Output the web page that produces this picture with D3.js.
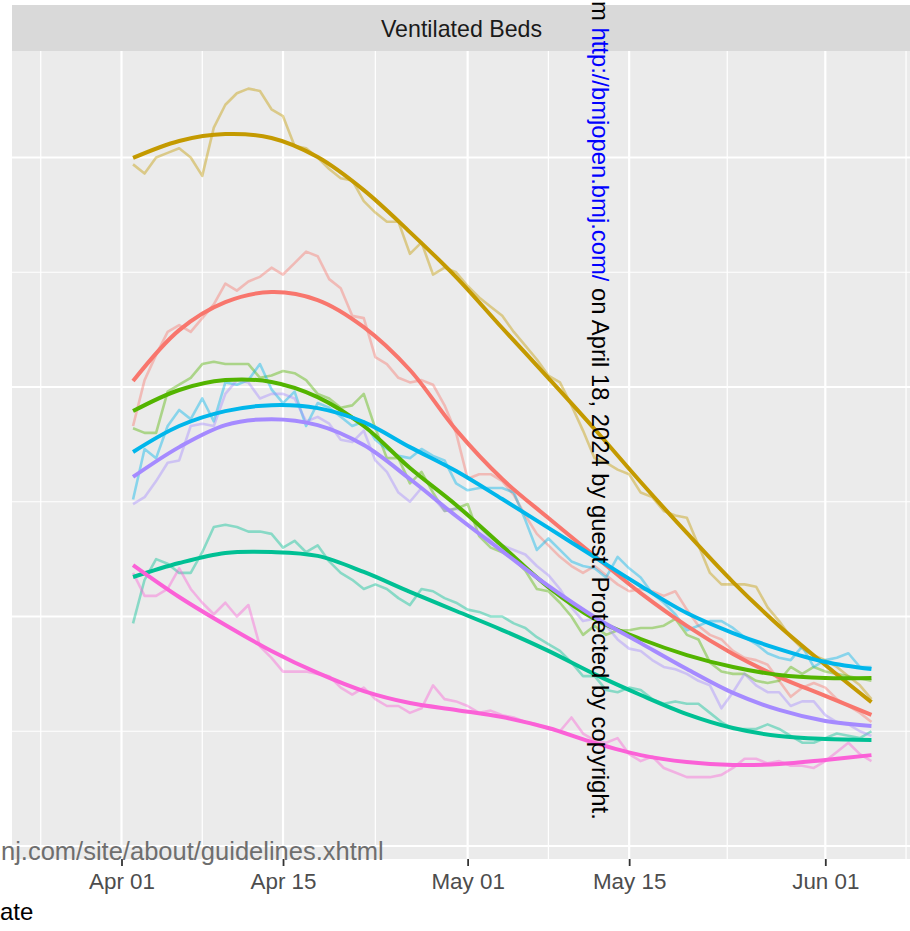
<!DOCTYPE html>
<html><head><meta charset="utf-8">
<script src="https://cdn.jsdelivr.net/npm/d3@7"></script>
<style>body{margin:0;background:#fff}svg{display:block}</style>
</head><body>
<svg id="chart" width="910" height="931"></svg>
<script>
// ---------------- data ----------------
const seriesNames = ["East of England","London","Midlands","North East and Yorkshire","North West","South East","South West"];
const seriesColors = ["#F8766D","#C49A00","#53B400","#00C094","#00B6EB","#A58AFF","#FB61D7"];
const firstDay = "2020-04-02";           // daily observations Apr 02 .. Jun 05
const nDays = 65;

const rawEast = [183,203,214,224,227,224,230,236,245,242,246,248,252,249,254,259,257,247,243,231,230,213,210,204,202,203,201,192,180,160,162,162,159,153,144,136,131,126,122,119,122,118,114,111,112,111,109,111,103,96,92,90,85,82,81,79,72,65,69,71,69,64,61,58,54];
const rawLondon = [297,293,300,302,304,300,292,313,323,328,330,329,321,318,305,304,300,295,291,290,281,276,272,272,258,263,249,252,250,244,239,235,231,224,218,212,205,202,192,181,169,167,164,162,154,152,146,144,143,131,119,114,114,114,113,104,98,91,86,83,81,78,74,70,64];
const rawMidlands = [182,180,180,198,201,204,210,211,210,210,210,204,205,207,206,203,197,195,191,192,197,182,169,169,158,163,154,146,147,149,135,130,128,125,120,112,111,106,100,92,96,92,94,94,95,95,96,99,92,90,80,76,75,75,72,71,72,78,75,78,76,75,74,73,72];
const rawNEY = [97,116,125,123,119,119,128,139,140,139,137,137,136,130,133,128,131,124,119,116,112,114,112,108,105,112,111,108,106,103,102,100,100,97,95,91,88,85,80,74,74,68,67,69,68,64,62,63,62,62,58,54,51,51,51,53,51,48,45,45,47,49,48,47,50];
const rawNW = [151,173,169,183,190,186,195,185,202,201,203,210,199,193,198,183,193,191,187,183,185,177,173,170,169,173,170,168,158,155,156,156,156,154,142,129,134,129,124,122,121,117,126,121,117,110,106,101,94,96,98,98,95,91,88,84,82,81,87,78,81,82,84,78,78];
const rawSE = [149,152,159,167,168,183,184,183,197,203,202,195,197,197,195,185,187,184,177,176,181,168,163,154,150,156,152,146,147,145,139,134,131,129,127,122,118,112,104,98,99,96,90,86,85,81,78,77,75,72,70,60,67,75,70,67,67,61,63,63,57,54,53,50,48];
const rawSW = [119,109,109,112,121,112,106,101,106,100,105,87,82,76,76,76,75,74,69,66,69,64,61,61,58,60,70,64,63,61,58,59,57,56,54,53,51,50,56,49,46,45,47,40,37,39,34,32,30,30,30,31,34,38,38,36,37,35,35,34,37,41,45,40,37];

// smoothed trend values, read every 4 days
const smoothDates = ["2020-04-02","2020-04-06","2020-04-10","2020-04-14","2020-04-18","2020-04-22","2020-04-26","2020-04-30","2020-05-04","2020-05-08","2020-05-12","2020-05-16","2020-05-20","2020-05-24","2020-05-28","2020-06-01","2020-06-05"];
const smoothEast = [202.6,224.8,237.0,241.4,237.9,226.1,207.4,181.3,159.9,142.9,126.4,110.2,95.9,83.7,73.6,65.4,57.1];
const smoothLondon = [299.8,307.2,310.2,308.5,300.2,285.8,267.5,247.9,225.7,203.9,181.7,158.6,136.4,115.0,95.9,78.9,62.7];
const smoothMidlands = [189.5,198.7,203.0,202.2,195.6,183.0,164.7,148.6,130.7,112.8,98.9,90.2,83.2,78.0,74.5,73.2,73.2];
const smoothNEY = [117.2,123.3,127.7,128.1,126.4,119.4,110.7,102.4,94.1,85.0,74.9,65.8,57.5,51.4,47.9,46.6,46.2];
const smoothNW = [171.7,183.0,189.5,192.1,190.8,184.7,173.8,163.4,151.2,138.6,125.9,113.3,101.5,92.8,85.8,80.2,77.1];
const smoothSE = [160.8,173.8,183.4,186.0,183.4,174.7,159.9,143.8,128.5,113.3,99.8,88.4,77.1,66.7,59.3,54.5,52.3];
const smoothSW = [122.4,108.5,96.3,85.0,75.4,67.5,62.3,59.3,56.2,51.4,44.9,39.6,36.6,35.3,35.7,37.5,39.6];

const majorDates = ["2020-04-01","2020-04-15","2020-05-01","2020-05-15","2020-06-01"];
const minorDates = ["2020-03-25","2020-04-08","2020-04-23","2020-05-08","2020-05-23T12:00","2020-06-08"];
const yMajor = [0,100,200,300];
const yMinor = [50,150,250];
const stripTitle = "Ventilated Beds";

// ---------------- drawing ----------------
const parse = s => new Date(s + (s.length === 10 ? "T00:00:00Z" : ":00Z"));
const rawSeries = [rawEast,rawLondon,rawMidlands,rawNEY,rawNW,rawSE,rawSW];
const smoothSeries = [smoothEast,smoothLondon,smoothMidlands,smoothNEY,smoothNW,smoothSE,smoothSW];
const dayDates = d3.utcDay.range(parse(firstDay), d3.utcDay.offset(parse(firstDay), nDays));
const sDates = smoothDates.map(parse);

const panel = {left: 12, right: 911, top: 51, bottom: 859};
const svg = d3.select("#chart");

const x = d3.scaleUtc().domain([parse("2020-04-01"), parse("2020-06-01")]).range([121.5, 825.3]);
const y = d3.scaleLinear().domain([0, 300]).range([846, 157.5]);

// panel background
svg.append("rect").attr("x", panel.left).attr("y", panel.top)
  .attr("width", panel.right - panel.left).attr("height", panel.bottom - panel.top).attr("fill", "#EBEBEB");
// strip
svg.append("rect").attr("x", panel.left).attr("y", 5)
  .attr("width", panel.right - panel.left).attr("height", panel.top - 5).attr("fill", "#D9D9D9");
svg.append("text").attr("x", (panel.left + panel.right) / 2).attr("y", 37)
  .attr("text-anchor", "middle").attr("font-family", "Liberation Sans, Arial, sans-serif")
  .attr("font-size", 23.2).attr("fill", "#1A1A1A").text(stripTitle);

const grid = svg.append("g");
grid.selectAll(".ymin").data(yMinor).join("line")
  .attr("x1", panel.left).attr("x2", panel.right).attr("y1", d => y(d)).attr("y2", d => y(d))
  .attr("stroke", "#fff").attr("stroke-width", 1.2);
grid.selectAll(".xmin").data(minorDates.map(parse)).join("line")
  .attr("y1", panel.top).attr("y2", panel.bottom).attr("x1", d => x(d)).attr("x2", d => x(d))
  .attr("stroke", "#fff").attr("stroke-width", 1.2);
grid.selectAll(".ymaj").data(yMajor).join("line")
  .attr("x1", panel.left).attr("x2", panel.right).attr("y1", d => y(d)).attr("y2", d => y(d))
  .attr("stroke", "#fff").attr("stroke-width", 2.2);
grid.selectAll(".xmaj").data(majorDates.map(parse)).join("line")
  .attr("y1", panel.top).attr("y2", panel.bottom).attr("x1", d => x(d)).attr("x2", d => x(d))
  .attr("stroke", "#fff").attr("stroke-width", 2.2);

// x axis
const xAxis = d3.axisBottom(x).tickValues(majorDates.map(parse))
  .tickFormat(d3.utcFormat("%b %d")).tickSize(7).tickPadding(5);
const ax = svg.append("g").attr("transform", `translate(0,${panel.bottom})`).call(xAxis);
ax.select(".domain").remove();
ax.selectAll(".tick line").attr("stroke", "#333333").attr("stroke-width", 1.8);
ax.selectAll(".tick text").attr("fill", "#4D4D4D").attr("font-size", 22.4)
  .attr("font-family", "Liberation Sans, Arial, sans-serif").attr("dy", null).attr("y", 30);

// raw lines
const rawLine = d3.line().x((d, i) => x(dayDates[i])).y(d => y(d));
svg.append("g").selectAll("path").data(rawSeries).join("path")
  .attr("d", rawLine).attr("fill", "none")
  .attr("stroke", (d, i) => seriesColors[i]).attr("stroke-opacity", 0.42)
  .attr("stroke-width", 2.6).attr("stroke-linejoin", "round");

// smooth lines
const smoothLine = d3.line().x((d, i) => x(sDates[i])).y(d => y(d)).curve(d3.curveCatmullRom.alpha(0.5));
svg.append("g").selectAll("path").data(smoothSeries).join("path")
  .attr("d", smoothLine).attr("fill", "none")
  .attr("stroke", (d, i) => seriesColors[i]).attr("stroke-width", 4).attr("stroke-linecap", "butt");

// overlaid watermark texts
const wm = svg.append("text").attr("transform", "translate(592,1) rotate(90)")
  .attr("font-family", "Liberation Sans, Arial, sans-serif").attr("font-size", 23.8).attr("fill", "#000");
wm.append("tspan").text("m ");
wm.append("tspan").attr("fill", "#0000FF").text("http://bmjopen.bmj.com/");
wm.append("tspan").text(" on April 18, 2024 by guest. Protected by copyright.");

svg.append("text").attr("x", 1).attr("y", 860)
  .attr("font-family", "Liberation Sans, Arial, sans-serif").attr("font-size", 25.5)
  .attr("fill", "#6E6E6E").text("nj.com/site/about/guidelines.xhtml");

svg.append("text").attr("x", 0).attr("y", 920)
  .attr("font-family", "Liberation Sans, Arial, sans-serif").attr("font-size", 24)
  .attr("fill", "#000").text("ate");
</script>
</body></html>
